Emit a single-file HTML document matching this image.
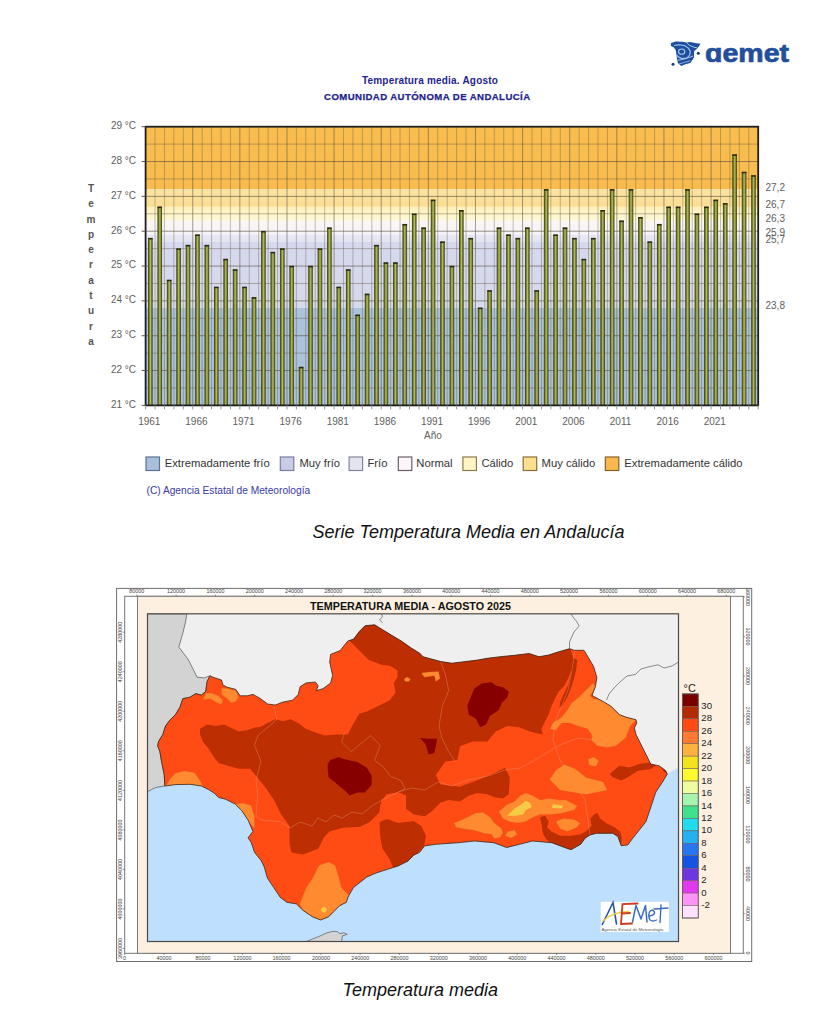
<!DOCTYPE html>
<html><head><meta charset="utf-8"><title>Temperatura media Andalucía</title>
<style>
html,body{margin:0;padding:0;background:#fff;}
body{width:838px;height:1033px;overflow:hidden;position:relative;font-family:"Liberation Sans", sans-serif;}
svg{position:absolute;left:0;top:0;}
svg text{font-family:"Liberation Sans", sans-serif;}
</style></head><body>
<svg width="838" height="1033" viewBox="0 0 838 1033">
<g><path d="M670.91 43.06 L675.74 41.44 L682.72 41.71 L686.48 42.52 L690.24 41.98 L695.08 43.06 L700.45 43.86 L699.37 45.74 L697.22 48.43 L694.27 51.11 L694.00 53.80 L694.00 57.56 L691.85 60.78 L690.24 62.93 L685.41 64.27 L681.11 65.88 L677.89 62.93 L677.08 59.17 L676.55 55.41 L675.74 50.04 L673.59 47.35 L670.91 46.01 Z" fill="#1f4f9b"/><path d="M674.13 45.47 L678.96 44.67 L684.33 45.47 L688.09 47.89 L690.24 51.11 L689.70 55.41 L686.48 58.09 L682.19 58.63 L678.43 57.02 L676.55 54.87" fill="none" stroke="#a8c8f4" stroke-width="1.1" stroke-linejoin="round"/><ellipse cx="681.65" cy="51.65" rx="3.1" ry="2.6" fill="none" stroke="#a8c8f4" stroke-width="1.1"/><path d="M677.62 60.24 L682.72 59.44 L687.56 58.09 L693.20 55.95" fill="none" stroke="#a8c8f4" stroke-width="1"/><path d="M686.48 42.52 L689.17 45.20 L692.93 46.82 L697.22 47.89" fill="none" stroke="#a8c8f4" stroke-width="1"/><path d="M678.96 64.00 L684.33 62.39 L690.24 60.78" fill="none" stroke="#a8c8f4" stroke-width="0.8"/><circle cx="698.30" cy="53.26" r="1.5" fill="#1a3f7e"/><circle cx="673.06" cy="64.27" r="1.5" fill="#1a3f7e"/><text x="705" y="62.2" font-size="25.8" font-weight="bold" fill="#234e9b" stroke="#234e9b" stroke-width="0.7" textLength="84" lengthAdjust="spacingAndGlyphs">&#x251;emet</text></g>
<defs>
<linearGradient id="barg" x1="0" x2="1" y1="0" y2="0"><stop offset="0" stop-color="#34380e"/><stop offset="0.22" stop-color="#5f6a20"/><stop offset="0.42" stop-color="#a0a84e"/><stop offset="0.55" stop-color="#b3b962"/><stop offset="0.75" stop-color="#737c28"/><stop offset="1" stop-color="#34380e"/></linearGradient>
</defs>
<defs>
<linearGradient id="bg0" x1="0" x2="0" y1="0" y2="1"><stop offset="0" stop-color="#f9bd4f"/><stop offset="1" stop-color="#f9bb4d"/></linearGradient>
<linearGradient id="bg1" x1="0" x2="0" y1="0" y2="1"><stop offset="0" stop-color="#fce4a4"/><stop offset="1" stop-color="#fbdd92"/></linearGradient>
<linearGradient id="bg2" x1="0" x2="0" y1="0" y2="1"><stop offset="0" stop-color="#fdf0b8"/><stop offset="1" stop-color="#fef8da"/></linearGradient>
<linearGradient id="bg3" x1="0" x2="0" y1="0" y2="1"><stop offset="0" stop-color="#fbf7f4"/><stop offset="1" stop-color="#f6f2f8"/></linearGradient>
<linearGradient id="bg4" x1="0" x2="0" y1="0" y2="1"><stop offset="0" stop-color="#e8e7f5"/><stop offset="1" stop-color="#e4e4f3"/></linearGradient>
<linearGradient id="bg5" x1="0" x2="0" y1="0" y2="1"><stop offset="0" stop-color="#d6d8ee"/><stop offset="1" stop-color="#d6daeb"/></linearGradient>
<linearGradient id="bg6" x1="0" x2="0" y1="0" y2="1"><stop offset="0" stop-color="#adc2dc"/><stop offset="1" stop-color="#abc0da"/></linearGradient>
</defs>
<rect x="145.60" y="126.70" width="612.60" height="62.71" fill="url(#bg0)"/>
<rect x="145.60" y="189.41" width="612.60" height="17.42" fill="url(#bg1)"/>
<rect x="145.60" y="206.83" width="612.60" height="13.93" fill="url(#bg2)"/>
<rect x="145.60" y="220.76" width="612.60" height="13.94" fill="url(#bg3)"/>
<rect x="145.60" y="234.70" width="612.60" height="6.97" fill="url(#bg4)"/>
<rect x="145.60" y="241.66" width="612.60" height="66.19" fill="url(#bg5)"/>
<rect x="145.60" y="307.85" width="612.60" height="97.55" fill="url(#bg6)"/>
<line x1="145.6" x2="758.2" y1="144.12" y2="144.12" stroke="#6a6050" stroke-opacity="0.45" stroke-width="1"/><line x1="145.6" x2="758.2" y1="161.54" y2="161.54" stroke="#5a5040" stroke-opacity="0.62" stroke-width="1"/><line x1="145.6" x2="758.2" y1="178.96" y2="178.96" stroke="#6a6050" stroke-opacity="0.45" stroke-width="1"/><line x1="145.6" x2="758.2" y1="196.38" y2="196.38" stroke="#5a5040" stroke-opacity="0.62" stroke-width="1"/><line x1="145.6" x2="758.2" y1="213.79" y2="213.79" stroke="#6a6050" stroke-opacity="0.45" stroke-width="1"/><line x1="145.6" x2="758.2" y1="231.21" y2="231.21" stroke="#5a5040" stroke-opacity="0.62" stroke-width="1"/><line x1="145.6" x2="758.2" y1="248.63" y2="248.63" stroke="#6a6050" stroke-opacity="0.45" stroke-width="1"/><line x1="145.6" x2="758.2" y1="266.05" y2="266.05" stroke="#5a5040" stroke-opacity="0.62" stroke-width="1"/><line x1="145.6" x2="758.2" y1="283.47" y2="283.47" stroke="#6a6050" stroke-opacity="0.45" stroke-width="1"/><line x1="145.6" x2="758.2" y1="300.89" y2="300.89" stroke="#5a5040" stroke-opacity="0.62" stroke-width="1"/><line x1="145.6" x2="758.2" y1="318.31" y2="318.31" stroke="#6a6050" stroke-opacity="0.45" stroke-width="1"/><line x1="145.6" x2="758.2" y1="335.72" y2="335.72" stroke="#5a5040" stroke-opacity="0.62" stroke-width="1"/><line x1="145.6" x2="758.2" y1="353.14" y2="353.14" stroke="#6a6050" stroke-opacity="0.45" stroke-width="1"/><line x1="145.6" x2="758.2" y1="370.56" y2="370.56" stroke="#5a5040" stroke-opacity="0.62" stroke-width="1"/><line x1="145.6" x2="758.2" y1="387.98" y2="387.98" stroke="#6a6050" stroke-opacity="0.45" stroke-width="1"/><line x1="155.02" x2="155.02" y1="126.7" y2="405.4" stroke="#5a5040" stroke-opacity="0.36" stroke-width="1"/><line x1="164.45" x2="164.45" y1="126.7" y2="405.4" stroke="#5a5040" stroke-opacity="0.36" stroke-width="1"/><line x1="173.87" x2="173.87" y1="126.7" y2="405.4" stroke="#5a5040" stroke-opacity="0.36" stroke-width="1"/><line x1="183.30" x2="183.30" y1="126.7" y2="405.4" stroke="#5a5040" stroke-opacity="0.36" stroke-width="1"/><line x1="192.72" x2="192.72" y1="126.7" y2="405.4" stroke="#5a5040" stroke-opacity="0.55" stroke-width="1"/><line x1="202.15" x2="202.15" y1="126.7" y2="405.4" stroke="#5a5040" stroke-opacity="0.36" stroke-width="1"/><line x1="211.57" x2="211.57" y1="126.7" y2="405.4" stroke="#5a5040" stroke-opacity="0.36" stroke-width="1"/><line x1="221.00" x2="221.00" y1="126.7" y2="405.4" stroke="#5a5040" stroke-opacity="0.36" stroke-width="1"/><line x1="230.42" x2="230.42" y1="126.7" y2="405.4" stroke="#5a5040" stroke-opacity="0.36" stroke-width="1"/><line x1="239.85" x2="239.85" y1="126.7" y2="405.4" stroke="#5a5040" stroke-opacity="0.55" stroke-width="1"/><line x1="249.27" x2="249.27" y1="126.7" y2="405.4" stroke="#5a5040" stroke-opacity="0.36" stroke-width="1"/><line x1="258.70" x2="258.70" y1="126.7" y2="405.4" stroke="#5a5040" stroke-opacity="0.36" stroke-width="1"/><line x1="268.12" x2="268.12" y1="126.7" y2="405.4" stroke="#5a5040" stroke-opacity="0.36" stroke-width="1"/><line x1="277.54" x2="277.54" y1="126.7" y2="405.4" stroke="#5a5040" stroke-opacity="0.36" stroke-width="1"/><line x1="286.97" x2="286.97" y1="126.7" y2="405.4" stroke="#5a5040" stroke-opacity="0.55" stroke-width="1"/><line x1="296.39" x2="296.39" y1="126.7" y2="405.4" stroke="#5a5040" stroke-opacity="0.36" stroke-width="1"/><line x1="305.82" x2="305.82" y1="126.7" y2="405.4" stroke="#5a5040" stroke-opacity="0.36" stroke-width="1"/><line x1="315.24" x2="315.24" y1="126.7" y2="405.4" stroke="#5a5040" stroke-opacity="0.36" stroke-width="1"/><line x1="324.67" x2="324.67" y1="126.7" y2="405.4" stroke="#5a5040" stroke-opacity="0.36" stroke-width="1"/><line x1="334.09" x2="334.09" y1="126.7" y2="405.4" stroke="#5a5040" stroke-opacity="0.55" stroke-width="1"/><line x1="343.52" x2="343.52" y1="126.7" y2="405.4" stroke="#5a5040" stroke-opacity="0.36" stroke-width="1"/><line x1="352.94" x2="352.94" y1="126.7" y2="405.4" stroke="#5a5040" stroke-opacity="0.36" stroke-width="1"/><line x1="362.37" x2="362.37" y1="126.7" y2="405.4" stroke="#5a5040" stroke-opacity="0.36" stroke-width="1"/><line x1="371.79" x2="371.79" y1="126.7" y2="405.4" stroke="#5a5040" stroke-opacity="0.36" stroke-width="1"/><line x1="381.22" x2="381.22" y1="126.7" y2="405.4" stroke="#5a5040" stroke-opacity="0.55" stroke-width="1"/><line x1="390.64" x2="390.64" y1="126.7" y2="405.4" stroke="#5a5040" stroke-opacity="0.36" stroke-width="1"/><line x1="400.06" x2="400.06" y1="126.7" y2="405.4" stroke="#5a5040" stroke-opacity="0.36" stroke-width="1"/><line x1="409.49" x2="409.49" y1="126.7" y2="405.4" stroke="#5a5040" stroke-opacity="0.36" stroke-width="1"/><line x1="418.91" x2="418.91" y1="126.7" y2="405.4" stroke="#5a5040" stroke-opacity="0.36" stroke-width="1"/><line x1="428.34" x2="428.34" y1="126.7" y2="405.4" stroke="#5a5040" stroke-opacity="0.55" stroke-width="1"/><line x1="437.76" x2="437.76" y1="126.7" y2="405.4" stroke="#5a5040" stroke-opacity="0.36" stroke-width="1"/><line x1="447.19" x2="447.19" y1="126.7" y2="405.4" stroke="#5a5040" stroke-opacity="0.36" stroke-width="1"/><line x1="456.61" x2="456.61" y1="126.7" y2="405.4" stroke="#5a5040" stroke-opacity="0.36" stroke-width="1"/><line x1="466.04" x2="466.04" y1="126.7" y2="405.4" stroke="#5a5040" stroke-opacity="0.36" stroke-width="1"/><line x1="475.46" x2="475.46" y1="126.7" y2="405.4" stroke="#5a5040" stroke-opacity="0.55" stroke-width="1"/><line x1="484.89" x2="484.89" y1="126.7" y2="405.4" stroke="#5a5040" stroke-opacity="0.36" stroke-width="1"/><line x1="494.31" x2="494.31" y1="126.7" y2="405.4" stroke="#5a5040" stroke-opacity="0.36" stroke-width="1"/><line x1="503.74" x2="503.74" y1="126.7" y2="405.4" stroke="#5a5040" stroke-opacity="0.36" stroke-width="1"/><line x1="513.16" x2="513.16" y1="126.7" y2="405.4" stroke="#5a5040" stroke-opacity="0.36" stroke-width="1"/><line x1="522.58" x2="522.58" y1="126.7" y2="405.4" stroke="#5a5040" stroke-opacity="0.55" stroke-width="1"/><line x1="532.01" x2="532.01" y1="126.7" y2="405.4" stroke="#5a5040" stroke-opacity="0.36" stroke-width="1"/><line x1="541.43" x2="541.43" y1="126.7" y2="405.4" stroke="#5a5040" stroke-opacity="0.36" stroke-width="1"/><line x1="550.86" x2="550.86" y1="126.7" y2="405.4" stroke="#5a5040" stroke-opacity="0.36" stroke-width="1"/><line x1="560.28" x2="560.28" y1="126.7" y2="405.4" stroke="#5a5040" stroke-opacity="0.36" stroke-width="1"/><line x1="569.71" x2="569.71" y1="126.7" y2="405.4" stroke="#5a5040" stroke-opacity="0.55" stroke-width="1"/><line x1="579.13" x2="579.13" y1="126.7" y2="405.4" stroke="#5a5040" stroke-opacity="0.36" stroke-width="1"/><line x1="588.56" x2="588.56" y1="126.7" y2="405.4" stroke="#5a5040" stroke-opacity="0.36" stroke-width="1"/><line x1="597.98" x2="597.98" y1="126.7" y2="405.4" stroke="#5a5040" stroke-opacity="0.36" stroke-width="1"/><line x1="607.41" x2="607.41" y1="126.7" y2="405.4" stroke="#5a5040" stroke-opacity="0.36" stroke-width="1"/><line x1="616.83" x2="616.83" y1="126.7" y2="405.4" stroke="#5a5040" stroke-opacity="0.55" stroke-width="1"/><line x1="626.26" x2="626.26" y1="126.7" y2="405.4" stroke="#5a5040" stroke-opacity="0.36" stroke-width="1"/><line x1="635.68" x2="635.68" y1="126.7" y2="405.4" stroke="#5a5040" stroke-opacity="0.36" stroke-width="1"/><line x1="645.10" x2="645.10" y1="126.7" y2="405.4" stroke="#5a5040" stroke-opacity="0.36" stroke-width="1"/><line x1="654.53" x2="654.53" y1="126.7" y2="405.4" stroke="#5a5040" stroke-opacity="0.36" stroke-width="1"/><line x1="663.95" x2="663.95" y1="126.7" y2="405.4" stroke="#5a5040" stroke-opacity="0.55" stroke-width="1"/><line x1="673.38" x2="673.38" y1="126.7" y2="405.4" stroke="#5a5040" stroke-opacity="0.36" stroke-width="1"/><line x1="682.80" x2="682.80" y1="126.7" y2="405.4" stroke="#5a5040" stroke-opacity="0.36" stroke-width="1"/><line x1="692.23" x2="692.23" y1="126.7" y2="405.4" stroke="#5a5040" stroke-opacity="0.36" stroke-width="1"/><line x1="701.65" x2="701.65" y1="126.7" y2="405.4" stroke="#5a5040" stroke-opacity="0.36" stroke-width="1"/><line x1="711.08" x2="711.08" y1="126.7" y2="405.4" stroke="#5a5040" stroke-opacity="0.55" stroke-width="1"/><line x1="720.50" x2="720.50" y1="126.7" y2="405.4" stroke="#5a5040" stroke-opacity="0.36" stroke-width="1"/><line x1="729.93" x2="729.93" y1="126.7" y2="405.4" stroke="#5a5040" stroke-opacity="0.36" stroke-width="1"/><line x1="739.35" x2="739.35" y1="126.7" y2="405.4" stroke="#5a5040" stroke-opacity="0.36" stroke-width="1"/><line x1="748.78" x2="748.78" y1="126.7" y2="405.4" stroke="#5a5040" stroke-opacity="0.36" stroke-width="1"/>
<rect x="148.01" y="238.18" width="4.6" height="167.22" fill="url(#barg)"/><rect x="148.01" y="237.88" width="4.6" height="1.6" fill="#2a2c10"/><rect x="157.44" y="206.83" width="4.6" height="198.57" fill="url(#barg)"/><rect x="157.44" y="206.53" width="4.6" height="1.6" fill="#2a2c10"/><rect x="166.86" y="279.98" width="4.6" height="125.42" fill="url(#barg)"/><rect x="166.86" y="279.68" width="4.6" height="1.6" fill="#2a2c10"/><rect x="176.29" y="248.63" width="4.6" height="156.77" fill="url(#barg)"/><rect x="176.29" y="248.33" width="4.6" height="1.6" fill="#2a2c10"/><rect x="185.71" y="245.15" width="4.6" height="160.25" fill="url(#barg)"/><rect x="185.71" y="244.85" width="4.6" height="1.6" fill="#2a2c10"/><rect x="195.14" y="234.70" width="4.6" height="170.70" fill="url(#barg)"/><rect x="195.14" y="234.40" width="4.6" height="1.6" fill="#2a2c10"/><rect x="204.56" y="245.15" width="4.6" height="160.25" fill="url(#barg)"/><rect x="204.56" y="244.85" width="4.6" height="1.6" fill="#2a2c10"/><rect x="213.98" y="286.95" width="4.6" height="118.45" fill="url(#barg)"/><rect x="213.98" y="286.65" width="4.6" height="1.6" fill="#2a2c10"/><rect x="223.41" y="259.08" width="4.6" height="146.32" fill="url(#barg)"/><rect x="223.41" y="258.78" width="4.6" height="1.6" fill="#2a2c10"/><rect x="232.83" y="269.53" width="4.6" height="135.87" fill="url(#barg)"/><rect x="232.83" y="269.23" width="4.6" height="1.6" fill="#2a2c10"/><rect x="242.26" y="286.95" width="4.6" height="118.45" fill="url(#barg)"/><rect x="242.26" y="286.65" width="4.6" height="1.6" fill="#2a2c10"/><rect x="251.68" y="297.40" width="4.6" height="108.00" fill="url(#barg)"/><rect x="251.68" y="297.10" width="4.6" height="1.6" fill="#2a2c10"/><rect x="261.11" y="231.21" width="4.6" height="174.19" fill="url(#barg)"/><rect x="261.11" y="230.91" width="4.6" height="1.6" fill="#2a2c10"/><rect x="270.53" y="252.12" width="4.6" height="153.28" fill="url(#barg)"/><rect x="270.53" y="251.82" width="4.6" height="1.6" fill="#2a2c10"/><rect x="279.96" y="248.63" width="4.6" height="156.77" fill="url(#barg)"/><rect x="279.96" y="248.33" width="4.6" height="1.6" fill="#2a2c10"/><rect x="289.38" y="266.05" width="4.6" height="139.35" fill="url(#barg)"/><rect x="289.38" y="265.75" width="4.6" height="1.6" fill="#2a2c10"/><rect x="298.81" y="367.08" width="4.6" height="38.32" fill="url(#barg)"/><rect x="298.81" y="366.78" width="4.6" height="1.6" fill="#2a2c10"/><rect x="308.23" y="266.05" width="4.6" height="139.35" fill="url(#barg)"/><rect x="308.23" y="265.75" width="4.6" height="1.6" fill="#2a2c10"/><rect x="317.66" y="248.63" width="4.6" height="156.77" fill="url(#barg)"/><rect x="317.66" y="248.33" width="4.6" height="1.6" fill="#2a2c10"/><rect x="327.08" y="227.73" width="4.6" height="177.67" fill="url(#barg)"/><rect x="327.08" y="227.43" width="4.6" height="1.6" fill="#2a2c10"/><rect x="336.50" y="286.95" width="4.6" height="118.45" fill="url(#barg)"/><rect x="336.50" y="286.65" width="4.6" height="1.6" fill="#2a2c10"/><rect x="345.93" y="269.53" width="4.6" height="135.87" fill="url(#barg)"/><rect x="345.93" y="269.23" width="4.6" height="1.6" fill="#2a2c10"/><rect x="355.35" y="314.82" width="4.6" height="90.58" fill="url(#barg)"/><rect x="355.35" y="314.52" width="4.6" height="1.6" fill="#2a2c10"/><rect x="364.78" y="293.92" width="4.6" height="111.48" fill="url(#barg)"/><rect x="364.78" y="293.62" width="4.6" height="1.6" fill="#2a2c10"/><rect x="374.20" y="245.15" width="4.6" height="160.25" fill="url(#barg)"/><rect x="374.20" y="244.85" width="4.6" height="1.6" fill="#2a2c10"/><rect x="383.63" y="262.57" width="4.6" height="142.83" fill="url(#barg)"/><rect x="383.63" y="262.27" width="4.6" height="1.6" fill="#2a2c10"/><rect x="393.05" y="262.57" width="4.6" height="142.83" fill="url(#barg)"/><rect x="393.05" y="262.27" width="4.6" height="1.6" fill="#2a2c10"/><rect x="402.48" y="224.25" width="4.6" height="181.15" fill="url(#barg)"/><rect x="402.48" y="223.94" width="4.6" height="1.6" fill="#2a2c10"/><rect x="411.90" y="213.79" width="4.6" height="191.61" fill="url(#barg)"/><rect x="411.90" y="213.49" width="4.6" height="1.6" fill="#2a2c10"/><rect x="421.33" y="227.73" width="4.6" height="177.67" fill="url(#barg)"/><rect x="421.33" y="227.43" width="4.6" height="1.6" fill="#2a2c10"/><rect x="430.75" y="199.86" width="4.6" height="205.54" fill="url(#barg)"/><rect x="430.75" y="199.56" width="4.6" height="1.6" fill="#2a2c10"/><rect x="440.18" y="241.66" width="4.6" height="163.74" fill="url(#barg)"/><rect x="440.18" y="241.36" width="4.6" height="1.6" fill="#2a2c10"/><rect x="449.60" y="266.05" width="4.6" height="139.35" fill="url(#barg)"/><rect x="449.60" y="265.75" width="4.6" height="1.6" fill="#2a2c10"/><rect x="459.02" y="210.31" width="4.6" height="195.09" fill="url(#barg)"/><rect x="459.02" y="210.01" width="4.6" height="1.6" fill="#2a2c10"/><rect x="468.45" y="238.18" width="4.6" height="167.22" fill="url(#barg)"/><rect x="468.45" y="237.88" width="4.6" height="1.6" fill="#2a2c10"/><rect x="477.87" y="307.85" width="4.6" height="97.55" fill="url(#barg)"/><rect x="477.87" y="307.55" width="4.6" height="1.6" fill="#2a2c10"/><rect x="487.30" y="290.44" width="4.6" height="114.96" fill="url(#barg)"/><rect x="487.30" y="290.14" width="4.6" height="1.6" fill="#2a2c10"/><rect x="496.72" y="227.73" width="4.6" height="177.67" fill="url(#barg)"/><rect x="496.72" y="227.43" width="4.6" height="1.6" fill="#2a2c10"/><rect x="506.15" y="234.70" width="4.6" height="170.70" fill="url(#barg)"/><rect x="506.15" y="234.40" width="4.6" height="1.6" fill="#2a2c10"/><rect x="515.57" y="238.18" width="4.6" height="167.22" fill="url(#barg)"/><rect x="515.57" y="237.88" width="4.6" height="1.6" fill="#2a2c10"/><rect x="525.00" y="227.73" width="4.6" height="177.67" fill="url(#barg)"/><rect x="525.00" y="227.43" width="4.6" height="1.6" fill="#2a2c10"/><rect x="534.42" y="290.44" width="4.6" height="114.96" fill="url(#barg)"/><rect x="534.42" y="290.14" width="4.6" height="1.6" fill="#2a2c10"/><rect x="543.85" y="189.41" width="4.6" height="215.99" fill="url(#barg)"/><rect x="543.85" y="189.11" width="4.6" height="1.6" fill="#2a2c10"/><rect x="553.27" y="234.70" width="4.6" height="170.70" fill="url(#barg)"/><rect x="553.27" y="234.40" width="4.6" height="1.6" fill="#2a2c10"/><rect x="562.70" y="227.73" width="4.6" height="177.67" fill="url(#barg)"/><rect x="562.70" y="227.43" width="4.6" height="1.6" fill="#2a2c10"/><rect x="572.12" y="238.18" width="4.6" height="167.22" fill="url(#barg)"/><rect x="572.12" y="237.88" width="4.6" height="1.6" fill="#2a2c10"/><rect x="581.54" y="259.08" width="4.6" height="146.32" fill="url(#barg)"/><rect x="581.54" y="258.78" width="4.6" height="1.6" fill="#2a2c10"/><rect x="590.97" y="238.18" width="4.6" height="167.22" fill="url(#barg)"/><rect x="590.97" y="237.88" width="4.6" height="1.6" fill="#2a2c10"/><rect x="600.39" y="210.31" width="4.6" height="195.09" fill="url(#barg)"/><rect x="600.39" y="210.01" width="4.6" height="1.6" fill="#2a2c10"/><rect x="609.82" y="189.41" width="4.6" height="215.99" fill="url(#barg)"/><rect x="609.82" y="189.11" width="4.6" height="1.6" fill="#2a2c10"/><rect x="619.24" y="220.76" width="4.6" height="184.64" fill="url(#barg)"/><rect x="619.24" y="220.46" width="4.6" height="1.6" fill="#2a2c10"/><rect x="628.67" y="189.41" width="4.6" height="215.99" fill="url(#barg)"/><rect x="628.67" y="189.11" width="4.6" height="1.6" fill="#2a2c10"/><rect x="638.09" y="217.28" width="4.6" height="188.12" fill="url(#barg)"/><rect x="638.09" y="216.98" width="4.6" height="1.6" fill="#2a2c10"/><rect x="647.52" y="241.66" width="4.6" height="163.74" fill="url(#barg)"/><rect x="647.52" y="241.36" width="4.6" height="1.6" fill="#2a2c10"/><rect x="656.94" y="224.25" width="4.6" height="181.15" fill="url(#barg)"/><rect x="656.94" y="223.94" width="4.6" height="1.6" fill="#2a2c10"/><rect x="666.37" y="206.83" width="4.6" height="198.57" fill="url(#barg)"/><rect x="666.37" y="206.53" width="4.6" height="1.6" fill="#2a2c10"/><rect x="675.79" y="206.83" width="4.6" height="198.57" fill="url(#barg)"/><rect x="675.79" y="206.53" width="4.6" height="1.6" fill="#2a2c10"/><rect x="685.22" y="189.41" width="4.6" height="215.99" fill="url(#barg)"/><rect x="685.22" y="189.11" width="4.6" height="1.6" fill="#2a2c10"/><rect x="694.64" y="213.79" width="4.6" height="191.61" fill="url(#barg)"/><rect x="694.64" y="213.49" width="4.6" height="1.6" fill="#2a2c10"/><rect x="704.06" y="206.83" width="4.6" height="198.57" fill="url(#barg)"/><rect x="704.06" y="206.53" width="4.6" height="1.6" fill="#2a2c10"/><rect x="713.49" y="199.86" width="4.6" height="205.54" fill="url(#barg)"/><rect x="713.49" y="199.56" width="4.6" height="1.6" fill="#2a2c10"/><rect x="722.91" y="203.34" width="4.6" height="202.06" fill="url(#barg)"/><rect x="722.91" y="203.04" width="4.6" height="1.6" fill="#2a2c10"/><rect x="732.34" y="154.57" width="4.6" height="250.83" fill="url(#barg)"/><rect x="732.34" y="154.27" width="4.6" height="1.6" fill="#2a2c10"/><rect x="741.76" y="171.99" width="4.6" height="233.41" fill="url(#barg)"/><rect x="741.76" y="171.69" width="4.6" height="1.6" fill="#2a2c10"/><rect x="751.19" y="175.47" width="4.6" height="229.93" fill="url(#barg)"/><rect x="751.19" y="175.17" width="4.6" height="1.6" fill="#2a2c10"/>
<rect x="145.60" y="126.70" width="612.60" height="278.70" fill="none" stroke="#1e1e1e" stroke-width="1.8"/>
<line x1="141.6" x2="145.6" y1="405.40" y2="405.40" stroke="#555" stroke-width="1"/><text x="136" y="407.70" text-anchor="end" font-size="10" fill="#606060">21 °C</text><line x1="141.6" x2="145.6" y1="370.56" y2="370.56" stroke="#555" stroke-width="1"/><text x="136" y="372.86" text-anchor="end" font-size="10" fill="#606060">22 °C</text><line x1="141.6" x2="145.6" y1="335.72" y2="335.72" stroke="#555" stroke-width="1"/><text x="136" y="338.02" text-anchor="end" font-size="10" fill="#606060">23 °C</text><line x1="141.6" x2="145.6" y1="300.89" y2="300.89" stroke="#555" stroke-width="1"/><text x="136" y="303.19" text-anchor="end" font-size="10" fill="#606060">24 °C</text><line x1="141.6" x2="145.6" y1="266.05" y2="266.05" stroke="#555" stroke-width="1"/><text x="136" y="268.35" text-anchor="end" font-size="10" fill="#606060">25 °C</text><line x1="141.6" x2="145.6" y1="231.21" y2="231.21" stroke="#555" stroke-width="1"/><text x="136" y="233.51" text-anchor="end" font-size="10" fill="#606060">26 °C</text><line x1="141.6" x2="145.6" y1="196.38" y2="196.38" stroke="#555" stroke-width="1"/><text x="136" y="198.68" text-anchor="end" font-size="10" fill="#606060">27 °C</text><line x1="141.6" x2="145.6" y1="161.54" y2="161.54" stroke="#555" stroke-width="1"/><text x="136" y="163.84" text-anchor="end" font-size="10" fill="#606060">28 °C</text><line x1="141.6" x2="145.6" y1="126.70" y2="126.70" stroke="#555" stroke-width="1"/><text x="136" y="129.00" text-anchor="end" font-size="10" fill="#606060">29 °C</text><line x1="145.60" x2="145.60" y1="405.4" y2="409.4" stroke="#999" stroke-width="1"/><line x1="155.02" x2="155.02" y1="405.4" y2="409.4" stroke="#999" stroke-width="1"/><line x1="164.45" x2="164.45" y1="405.4" y2="409.4" stroke="#999" stroke-width="1"/><line x1="173.87" x2="173.87" y1="405.4" y2="409.4" stroke="#999" stroke-width="1"/><line x1="183.30" x2="183.30" y1="405.4" y2="409.4" stroke="#999" stroke-width="1"/><line x1="192.72" x2="192.72" y1="405.4" y2="409.4" stroke="#999" stroke-width="1"/><line x1="202.15" x2="202.15" y1="405.4" y2="409.4" stroke="#999" stroke-width="1"/><line x1="211.57" x2="211.57" y1="405.4" y2="409.4" stroke="#999" stroke-width="1"/><line x1="221.00" x2="221.00" y1="405.4" y2="409.4" stroke="#999" stroke-width="1"/><line x1="230.42" x2="230.42" y1="405.4" y2="409.4" stroke="#999" stroke-width="1"/><line x1="239.85" x2="239.85" y1="405.4" y2="409.4" stroke="#999" stroke-width="1"/><line x1="249.27" x2="249.27" y1="405.4" y2="409.4" stroke="#999" stroke-width="1"/><line x1="258.70" x2="258.70" y1="405.4" y2="409.4" stroke="#999" stroke-width="1"/><line x1="268.12" x2="268.12" y1="405.4" y2="409.4" stroke="#999" stroke-width="1"/><line x1="277.54" x2="277.54" y1="405.4" y2="409.4" stroke="#999" stroke-width="1"/><line x1="286.97" x2="286.97" y1="405.4" y2="409.4" stroke="#999" stroke-width="1"/><line x1="296.39" x2="296.39" y1="405.4" y2="409.4" stroke="#999" stroke-width="1"/><line x1="305.82" x2="305.82" y1="405.4" y2="409.4" stroke="#999" stroke-width="1"/><line x1="315.24" x2="315.24" y1="405.4" y2="409.4" stroke="#999" stroke-width="1"/><line x1="324.67" x2="324.67" y1="405.4" y2="409.4" stroke="#999" stroke-width="1"/><line x1="334.09" x2="334.09" y1="405.4" y2="409.4" stroke="#999" stroke-width="1"/><line x1="343.52" x2="343.52" y1="405.4" y2="409.4" stroke="#999" stroke-width="1"/><line x1="352.94" x2="352.94" y1="405.4" y2="409.4" stroke="#999" stroke-width="1"/><line x1="362.37" x2="362.37" y1="405.4" y2="409.4" stroke="#999" stroke-width="1"/><line x1="371.79" x2="371.79" y1="405.4" y2="409.4" stroke="#999" stroke-width="1"/><line x1="381.22" x2="381.22" y1="405.4" y2="409.4" stroke="#999" stroke-width="1"/><line x1="390.64" x2="390.64" y1="405.4" y2="409.4" stroke="#999" stroke-width="1"/><line x1="400.06" x2="400.06" y1="405.4" y2="409.4" stroke="#999" stroke-width="1"/><line x1="409.49" x2="409.49" y1="405.4" y2="409.4" stroke="#999" stroke-width="1"/><line x1="418.91" x2="418.91" y1="405.4" y2="409.4" stroke="#999" stroke-width="1"/><line x1="428.34" x2="428.34" y1="405.4" y2="409.4" stroke="#999" stroke-width="1"/><line x1="437.76" x2="437.76" y1="405.4" y2="409.4" stroke="#999" stroke-width="1"/><line x1="447.19" x2="447.19" y1="405.4" y2="409.4" stroke="#999" stroke-width="1"/><line x1="456.61" x2="456.61" y1="405.4" y2="409.4" stroke="#999" stroke-width="1"/><line x1="466.04" x2="466.04" y1="405.4" y2="409.4" stroke="#999" stroke-width="1"/><line x1="475.46" x2="475.46" y1="405.4" y2="409.4" stroke="#999" stroke-width="1"/><line x1="484.89" x2="484.89" y1="405.4" y2="409.4" stroke="#999" stroke-width="1"/><line x1="494.31" x2="494.31" y1="405.4" y2="409.4" stroke="#999" stroke-width="1"/><line x1="503.74" x2="503.74" y1="405.4" y2="409.4" stroke="#999" stroke-width="1"/><line x1="513.16" x2="513.16" y1="405.4" y2="409.4" stroke="#999" stroke-width="1"/><line x1="522.58" x2="522.58" y1="405.4" y2="409.4" stroke="#999" stroke-width="1"/><line x1="532.01" x2="532.01" y1="405.4" y2="409.4" stroke="#999" stroke-width="1"/><line x1="541.43" x2="541.43" y1="405.4" y2="409.4" stroke="#999" stroke-width="1"/><line x1="550.86" x2="550.86" y1="405.4" y2="409.4" stroke="#999" stroke-width="1"/><line x1="560.28" x2="560.28" y1="405.4" y2="409.4" stroke="#999" stroke-width="1"/><line x1="569.71" x2="569.71" y1="405.4" y2="409.4" stroke="#999" stroke-width="1"/><line x1="579.13" x2="579.13" y1="405.4" y2="409.4" stroke="#999" stroke-width="1"/><line x1="588.56" x2="588.56" y1="405.4" y2="409.4" stroke="#999" stroke-width="1"/><line x1="597.98" x2="597.98" y1="405.4" y2="409.4" stroke="#999" stroke-width="1"/><line x1="607.41" x2="607.41" y1="405.4" y2="409.4" stroke="#999" stroke-width="1"/><line x1="616.83" x2="616.83" y1="405.4" y2="409.4" stroke="#999" stroke-width="1"/><line x1="626.26" x2="626.26" y1="405.4" y2="409.4" stroke="#999" stroke-width="1"/><line x1="635.68" x2="635.68" y1="405.4" y2="409.4" stroke="#999" stroke-width="1"/><line x1="645.10" x2="645.10" y1="405.4" y2="409.4" stroke="#999" stroke-width="1"/><line x1="654.53" x2="654.53" y1="405.4" y2="409.4" stroke="#999" stroke-width="1"/><line x1="663.95" x2="663.95" y1="405.4" y2="409.4" stroke="#999" stroke-width="1"/><line x1="673.38" x2="673.38" y1="405.4" y2="409.4" stroke="#999" stroke-width="1"/><line x1="682.80" x2="682.80" y1="405.4" y2="409.4" stroke="#999" stroke-width="1"/><line x1="692.23" x2="692.23" y1="405.4" y2="409.4" stroke="#999" stroke-width="1"/><line x1="701.65" x2="701.65" y1="405.4" y2="409.4" stroke="#999" stroke-width="1"/><line x1="711.08" x2="711.08" y1="405.4" y2="409.4" stroke="#999" stroke-width="1"/><line x1="720.50" x2="720.50" y1="405.4" y2="409.4" stroke="#999" stroke-width="1"/><line x1="729.93" x2="729.93" y1="405.4" y2="409.4" stroke="#999" stroke-width="1"/><line x1="739.35" x2="739.35" y1="405.4" y2="409.4" stroke="#999" stroke-width="1"/><line x1="748.78" x2="748.78" y1="405.4" y2="409.4" stroke="#999" stroke-width="1"/><line x1="758.20" x2="758.20" y1="405.4" y2="409.4" stroke="#999" stroke-width="1"/><text x="149.31" y="424.5" text-anchor="middle" font-size="10" fill="#606060">1961</text><text x="196.44" y="424.5" text-anchor="middle" font-size="10" fill="#606060">1966</text><text x="243.56" y="424.5" text-anchor="middle" font-size="10" fill="#606060">1971</text><text x="290.68" y="424.5" text-anchor="middle" font-size="10" fill="#606060">1976</text><text x="337.80" y="424.5" text-anchor="middle" font-size="10" fill="#606060">1981</text><text x="384.93" y="424.5" text-anchor="middle" font-size="10" fill="#606060">1986</text><text x="432.05" y="424.5" text-anchor="middle" font-size="10" fill="#606060">1991</text><text x="479.17" y="424.5" text-anchor="middle" font-size="10" fill="#606060">1996</text><text x="526.30" y="424.5" text-anchor="middle" font-size="10" fill="#606060">2001</text><text x="573.42" y="424.5" text-anchor="middle" font-size="10" fill="#606060">2006</text><text x="620.54" y="424.5" text-anchor="middle" font-size="10" fill="#606060">2011</text><text x="667.67" y="424.5" text-anchor="middle" font-size="10" fill="#606060">2016</text><text x="714.79" y="424.5" text-anchor="middle" font-size="10" fill="#606060">2021</text><text x="433" y="438.7" text-anchor="middle" font-size="10" fill="#606060">Año</text><text x="765.5" y="191.01" font-size="10" fill="#606060">27,2</text><text x="765.5" y="208.43" font-size="10" fill="#606060">26,7</text><text x="765.5" y="222.36" font-size="10" fill="#606060">26,3</text><text x="765.5" y="236.30" font-size="10" fill="#606060">25,9</text><text x="765.5" y="243.26" font-size="10" fill="#606060">25,7</text><text x="765.5" y="309.45" font-size="10" fill="#606060">23,8</text><text x="91" y="191.90" text-anchor="middle" font-size="10" font-weight="bold" fill="#555">T</text><text x="91" y="207.20" text-anchor="middle" font-size="10" font-weight="bold" fill="#555">e</text><text x="91" y="222.50" text-anchor="middle" font-size="10" font-weight="bold" fill="#555">m</text><text x="91" y="237.80" text-anchor="middle" font-size="10" font-weight="bold" fill="#555">p</text><text x="91" y="253.10" text-anchor="middle" font-size="10" font-weight="bold" fill="#555">e</text><text x="91" y="268.40" text-anchor="middle" font-size="10" font-weight="bold" fill="#555">r</text><text x="91" y="283.70" text-anchor="middle" font-size="10" font-weight="bold" fill="#555">a</text><text x="91" y="299.00" text-anchor="middle" font-size="10" font-weight="bold" fill="#555">t</text><text x="91" y="314.30" text-anchor="middle" font-size="10" font-weight="bold" fill="#555">u</text><text x="91" y="329.60" text-anchor="middle" font-size="10" font-weight="bold" fill="#555">r</text><text x="91" y="344.90" text-anchor="middle" font-size="10" font-weight="bold" fill="#555">a</text>
<text x="430" y="83.6" text-anchor="middle" font-size="10" font-weight="bold" fill="#1f1f8f" letter-spacing="0.2">Temperatura media. Agosto</text>
<text x="427.3" y="100.1" text-anchor="middle" font-size="9.6" font-weight="bold" fill="#1f1f8f" stroke="#1f1f8f" stroke-width="0.25" letter-spacing="0.42">COMUNIDAD AUTÓNOMA DE ANDALUCÍA</text>
<rect x="146.0" y="457" width="13.5" height="13.5" fill="#a7c0dc" stroke="#5d7290" stroke-width="1.2"/>
<text x="164.7" y="467.2" font-size="11.25" fill="#333">Extremadamente frío</text>
<rect x="280.3" y="457" width="13.5" height="13.5" fill="#c9cce6" stroke="#7b7e98" stroke-width="1.2"/>
<text x="299.4" y="467.2" font-size="11.25" fill="#333">Muy frío</text>
<rect x="349.1" y="457" width="13.5" height="13.5" fill="#e3e3f1" stroke="#85859a" stroke-width="1.2"/>
<text x="367.5" y="467.2" font-size="11.25" fill="#333">Frío</text>
<rect x="398.3" y="457" width="13.5" height="13.5" fill="#fbf5fa" stroke="#6a5f6c" stroke-width="1.2"/>
<text x="416.3" y="467.2" font-size="11.25" fill="#333">Normal</text>
<rect x="462.9" y="457" width="13.5" height="13.5" fill="#fff6c4" stroke="#8a7b50" stroke-width="1.2"/>
<text x="481.4" y="467.2" font-size="11.25" fill="#333">Cálido</text>
<rect x="523.2" y="457" width="13.5" height="13.5" fill="#fde08f" stroke="#87703e" stroke-width="1.2"/>
<text x="541.6" y="467.2" font-size="11.25" fill="#333">Muy cálido</text>
<rect x="605.3" y="457" width="13.5" height="13.5" fill="#f9b84b" stroke="#86612a" stroke-width="1.2"/>
<text x="624.3" y="467.2" font-size="11.25" fill="#333">Extremadamente cálido</text>
<text x="146.5" y="494" font-size="10.2" fill="#3a3aa8">(C) Agencia Estatal de Meteorología</text>
<text x="468.5" y="537.8" text-anchor="middle" font-size="18" font-style="italic" fill="#111">Serie Temperatura Media en Andalucía</text>
<text x="420.3" y="995.8" text-anchor="middle" font-size="18" font-style="italic" fill="#111">Temperatura media</text>
<g id="map">
<rect x="116.6" y="588.4" width="635.1" height="373.1" fill="#fff" stroke="#6e6e6e" stroke-width="1"/>
<rect x="124.7" y="596.3" width="618.6" height="357" fill="#fff" stroke="#777" stroke-width="1"/>
<rect x="137.5" y="596.3" width="593" height="357" fill="#fdf0e0" stroke="#777" stroke-width="1"/>
<clipPath id="mclip"><rect x="147.5" y="613.8" width="531.0" height="327.70000000000005"/></clipPath>
<g clip-path="url(#mclip)">
<rect x="147.5" y="613.8" width="531.0" height="327.70000000000005" fill="#bedffd"/>
<polygon points="147.5,613.8 678.5,613.8 678.5,767.4 667.3,774.0 640.0,760.0 560.0,700.0 420.0,700.0 300.0,720.0 210.0,700.0 147.5,700.0" fill="#efefef" />
<polygon points="147.5,613.8 186.9,613.8 185.3,622.9 183.0,632.5 178.8,647.0 183.7,653.5 188.5,660.0 192.8,668.6 197.1,677.2 204.3,677.9 210.0,675.8 207.1,681.5 205.7,691.5 201.4,695.1 195.7,693.7 190.0,697.2 182.8,698.7 179.9,707.3 175.6,714.4 169.9,720.1 165.6,725.9 162.8,734.5 158.5,741.6 157.7,745.9 159.9,751.6 161.3,760.2 164.2,774.6 164.9,786.0 155.6,787.5 147.5,791.7" fill="#d3d3d3" stroke="#555" stroke-width="0.7"/>
<clipPath id="aclip"><polygon points="210.0,675.8 212.9,677.2 221.5,680.0 222.9,685.0 227.2,687.2 235.8,689.4 240.1,695.8 247.2,695.8 253.0,694.4 260.0,698.3 267.6,704.0 275.3,705.0 282.9,702.1 292.5,700.2 298.2,694.5 300.1,686.8 305.8,683.0 315.4,682.0 318.2,685.9 316.3,690.6 323.0,688.7 330.6,683.0 332.6,675.4 329.7,662.0 330.6,654.4 340.2,650.5 347.8,641.0 353.6,639.1 359.3,631.5 365.0,625.7 374.6,624.8 382.2,629.5 391.7,635.3 401.3,641.0 410.8,647.7 420.0,653.4 422.9,656.7 440.6,661.5 451.9,663.2 477.7,660.0 487.3,658.3 500.2,656.7 516.3,655.1 529.2,653.5 538.9,656.7 548.5,655.1 558.2,651.9 569.5,648.7 574.3,650.3 584.0,650.3 588.8,658.3 593.6,666.4 596.9,677.7 595.2,687.3 592.0,695.4 604.7,702.4 611.3,706.5 619.5,714.7 626.1,717.2 636.0,719.7 636.8,723.0 634.4,727.9 636.0,734.5 642.6,747.7 650.8,764.1 659.1,765.8 665.7,770.7 667.3,774.0 662.4,782.3 655.8,792.1 652.5,802.0 649.2,811.9 645.9,821.8 639.3,830.0 632.7,838.3 627.8,844.9 621.2,845.7 617.9,836.6 612.9,833.3 604.7,833.3 596.5,833.3 589.9,835.0 585.0,838.3 580.7,844.3 571.0,849.7 564.6,847.5 551.8,842.7 532.4,841.0 519.5,844.3 506.6,847.5 493.8,842.7 474.4,841.0 458.3,842.7 435.8,844.3 424.5,845.9 419.7,852.3 414.0,855.0 408.0,861.0 398.0,866.0 387.5,869.3 376.0,873.0 366.5,877.2 353.4,887.6 348.0,897.0 346.4,902.3 339.9,905.5 335.1,910.3 328.6,916.8 320.6,920.0 312.5,916.8 302.9,910.3 296.4,903.9 286.8,902.3 280.3,897.4 273.9,887.8 267.4,878.1 264.2,866.8 261.0,860.4 254.5,852.3 251.3,842.7 248.1,837.8 252.9,831.4 248.1,820.1 241.6,810.4 235.2,804.0 225.5,799.2 218.6,797.5 214.3,793.2 208.6,789.6 201.4,786.0 190.0,784.3 175.6,784.6 164.9,786.0 164.2,774.6 161.3,760.2 159.9,751.6 157.7,745.9 158.5,741.6 162.8,734.5 165.6,725.9 169.9,720.1 175.6,714.4 179.9,707.3 182.8,698.7 190.0,697.2 195.7,693.7 201.4,695.1 205.7,691.5 207.1,681.5"/></clipPath>
<polygon points="210.0,675.8 212.9,677.2 221.5,680.0 222.9,685.0 227.2,687.2 235.8,689.4 240.1,695.8 247.2,695.8 253.0,694.4 260.0,698.3 267.6,704.0 275.3,705.0 282.9,702.1 292.5,700.2 298.2,694.5 300.1,686.8 305.8,683.0 315.4,682.0 318.2,685.9 316.3,690.6 323.0,688.7 330.6,683.0 332.6,675.4 329.7,662.0 330.6,654.4 340.2,650.5 347.8,641.0 353.6,639.1 359.3,631.5 365.0,625.7 374.6,624.8 382.2,629.5 391.7,635.3 401.3,641.0 410.8,647.7 420.0,653.4 422.9,656.7 440.6,661.5 451.9,663.2 477.7,660.0 487.3,658.3 500.2,656.7 516.3,655.1 529.2,653.5 538.9,656.7 548.5,655.1 558.2,651.9 569.5,648.7 574.3,650.3 584.0,650.3 588.8,658.3 593.6,666.4 596.9,677.7 595.2,687.3 592.0,695.4 604.7,702.4 611.3,706.5 619.5,714.7 626.1,717.2 636.0,719.7 636.8,723.0 634.4,727.9 636.0,734.5 642.6,747.7 650.8,764.1 659.1,765.8 665.7,770.7 667.3,774.0 662.4,782.3 655.8,792.1 652.5,802.0 649.2,811.9 645.9,821.8 639.3,830.0 632.7,838.3 627.8,844.9 621.2,845.7 617.9,836.6 612.9,833.3 604.7,833.3 596.5,833.3 589.9,835.0 585.0,838.3 580.7,844.3 571.0,849.7 564.6,847.5 551.8,842.7 532.4,841.0 519.5,844.3 506.6,847.5 493.8,842.7 474.4,841.0 458.3,842.7 435.8,844.3 424.5,845.9 419.7,852.3 414.0,855.0 408.0,861.0 398.0,866.0 387.5,869.3 376.0,873.0 366.5,877.2 353.4,887.6 348.0,897.0 346.4,902.3 339.9,905.5 335.1,910.3 328.6,916.8 320.6,920.0 312.5,916.8 302.9,910.3 296.4,903.9 286.8,902.3 280.3,897.4 273.9,887.8 267.4,878.1 264.2,866.8 261.0,860.4 254.5,852.3 251.3,842.7 248.1,837.8 252.9,831.4 248.1,820.1 241.6,810.4 235.2,804.0 225.5,799.2 218.6,797.5 214.3,793.2 208.6,789.6 201.4,786.0 190.0,784.3 175.6,784.6 164.9,786.0 164.2,774.6 161.3,760.2 159.9,751.6 157.7,745.9 158.5,741.6 162.8,734.5 165.6,725.9 169.9,720.1 175.6,714.4 179.9,707.3 182.8,698.7 190.0,697.2 195.7,693.7 201.4,695.1 205.7,691.5 207.1,681.5" fill="#ff4b14" />
<g clip-path="url(#aclip)">
<polygon points="349.7,641.0 345.0,615.0 580.0,615.0 570.1,647.9 573.0,657.2 571.5,668.6 568.7,677.2 564.4,685.8 558.6,691.6 554.3,700.1 551.5,705.9 548.6,714.5 544.3,723.1 541.5,728.8 542.9,734.5 535.7,733.1 530.0,731.6 518.8,727.3 507.4,725.9 495.9,731.6 487.3,741.6 473.0,741.6 460.1,745.9 457.3,760.0 445.4,761.4 435.8,774.9 440.6,784.4 459.7,786.8 478.8,779.7 495.5,772.5 505.0,767.7 509.8,777.3 508.7,794.3 503.0,798.6 494.4,797.2 487.3,794.3 477.2,792.9 468.6,795.8 460.0,801.5 448.6,800.0 440.0,802.9 432.7,810.5 425.1,816.3 413.7,814.4 406.0,808.6 406.0,795.3 398.4,792.4 386.9,794.3 381.2,801.0 379.3,812.5 369.7,822.0 360.2,826.8 343.0,827.7 329.6,831.6 323.9,837.3 318.2,848.7 302.9,854.5 291.5,852.6 289.5,843.0 289.5,826.0 280.8,813.7 274.4,800.8 265.8,787.9 257.2,777.2 250.1,768.8 238.6,768.8 228.6,766.0 218.6,763.1 214.3,757.4 208.6,748.8 202.8,741.6 200.0,734.5 200.0,728.7 207.1,724.4 215.7,725.9 224.3,724.4 232.9,728.7 238.6,731.6 247.2,730.2 255.8,727.3 260.0,726.9 267.6,723.1 275.3,719.3 282.9,721.2 290.5,719.3 298.2,723.1 305.8,728.8 315.4,732.6 324.9,735.5 336.4,734.6 347.8,734.6 351.6,726.9 359.3,713.6 366.9,711.6 374.6,707.8 382.2,704.0 389.8,700.2 395.6,692.6 393.7,683.0 397.5,677.3 397.5,670.6 389.8,665.8 382.2,664.9 368.8,660.1 359.3,650.5" fill="#bd2e02" />
<polygon points="379.6,822.0 386.9,819.0 398.4,823.0 413.7,821.0 421.3,826.0 426.0,836.0 424.0,846.0 414.0,857.0 403.0,866.0 394.0,870.0 390.0,860.0 382.3,848.2 380.0,835.0" fill="#bd2e02" />
<polygon points="540.0,817.2 545.1,815.8 548.6,821.5 547.2,827.2 551.5,831.5 560.1,835.8 570.1,835.8 580.1,834.4 585.9,831.5 591.6,825.8 590.2,818.6 594.5,814.3 597.3,812.9 600.2,818.6 605.9,822.9 614.5,827.2 620.2,831.5 621.7,837.3 621.0,850.0 560.0,852.0 545.8,838.7 542.9,833.0 541.5,824.4" fill="#bd2e02" />
<polygon points="609.7,774.0 619.5,765.8 629.4,767.4 639.3,764.1 649.2,762.5 655.8,765.8 650.8,769.0 637.7,770.7 627.8,777.3 621.2,780.6 612.9,777.3" fill="#bd2e02" />
<polygon points="660.0,766.0 668.0,770.0 672.0,776.0 664.0,772.0" fill="#bd2e02" />
<polygon points="572.2,657.5 577.5,660.0 576.0,670.4 573.2,681.3 570.5,689.6 567.5,697.0 563.0,704.5 559.5,708.0 560.5,701.0 565.0,691.5 568.5,684.0 570.5,675.5 571.0,666.0" fill="#bd2e02" />
<polygon points="379.6,807.3 386.0,794.4 398.9,792.2 405.0,796.8 405.0,811.0 394.6,822.3 386.0,815.8" fill="#ff4b14" />
<polygon points="160.0,786.0 167.0,784.6 169.9,778.9 175.6,773.1 184.2,771.0 194.3,772.4 200.0,780.3 202.8,786.0 209.0,792.0" fill="#ff8a30" stroke="#c85a20" stroke-width="0.4" stroke-opacity="0.6"/>
<polygon points="235.2,804.0 243.0,803.0 251.3,805.6 254.5,816.9 254.5,828.2 249.7,823.3 244.0,814.0" fill="#ff8a30" stroke="#c85a20" stroke-width="0.4" stroke-opacity="0.6"/>
<polygon points="205.7,693.0 211.4,693.0 218.6,695.8 222.9,700.1 221.5,704.4 217.2,703.0 210.0,698.7 203.0,700.0" fill="#ff8a30" stroke="#c85a20" stroke-width="0.4" stroke-opacity="0.6"/>
<polygon points="221.5,688.0 227.2,688.6 235.8,690.8 238.6,697.2 235.8,701.5 231.5,703.0 227.2,698.7 221.5,694.4" fill="#ff8a30" stroke="#c85a20" stroke-width="0.4" stroke-opacity="0.6"/>
<polygon points="299.6,903.9 306.1,887.8 312.5,878.1 319.0,865.2 328.6,862.0 335.1,865.2 338.3,874.9 341.5,887.8 351.2,897.4 346.4,902.3 339.9,905.5 335.1,910.3 328.6,916.8 320.6,920.0 312.5,916.8 302.9,910.3" fill="#ff8a30" stroke="#c85a20" stroke-width="0.4" stroke-opacity="0.6"/>
<polygon points="593.0,683.0 595.9,687.3 590.1,695.8 593.0,698.7 601.6,700.1 607.3,703.0 613.1,708.7 618.8,714.5 627.4,717.3 636.0,718.8 636.0,720.2 630.2,725.9 626.0,737.4 615.9,746.0 607.3,747.4 597.3,746.0 591.6,740.2 591.6,734.5 587.3,728.8 577.3,725.9 570.1,723.1 561.5,723.1 555.8,730.2 550.0,728.8 552.9,723.1 561.5,717.3 567.2,710.2 571.5,703.0 578.7,697.3 587.3,688.7" fill="#ff8a30" stroke="#c85a20" stroke-width="0.4" stroke-opacity="0.6"/>
<polygon points="564.4,764.5 575.2,768.8 586.0,777.4 603.0,781.7 607.4,790.3 586.0,794.6 560.1,790.3 549.4,779.6 556.0,770.0" fill="#ff8a30" stroke="#c85a20" stroke-width="0.4" stroke-opacity="0.6"/>
<polygon points="588.0,759.0 594.0,757.0 598.8,761.0 596.0,766.7 589.0,765.0" fill="#ff8a30" stroke="#c85a20" stroke-width="0.4" stroke-opacity="0.6"/>
<polygon points="454.3,823.0 461.5,820.1 475.8,812.9 483.0,812.2 490.1,817.2 494.4,823.0 501.6,828.7 503.0,833.0 500.1,837.3 494.4,838.7 491.6,834.4 483.0,833.0 472.9,830.1 462.9,828.7 455.8,827.2" fill="#ff8a30" stroke="#c85a20" stroke-width="0.4" stroke-opacity="0.6"/>
<polygon points="498.7,811.5 507.3,804.3 514.5,801.5 520.2,795.8 525.9,792.9 533.1,795.8 540.2,800.0 548.8,798.6 560.0,800.0 565.8,800.0 577.3,805.8 574.4,810.0 563.0,812.9 551.7,814.4 540.2,814.4 533.1,817.2 525.9,821.5 517.3,823.0 508.7,821.5 503.0,818.7" fill="#ff8a30" stroke="#c85a20" stroke-width="0.4" stroke-opacity="0.6"/>
<polygon points="555.8,821.5 563.0,818.6 574.4,819.4 580.1,822.9 577.3,827.2 567.3,831.5 560.1,828.7" fill="#ff8a30" stroke="#c85a20" stroke-width="0.4" stroke-opacity="0.6"/>
<polygon points="507.3,831.6 514.5,830.1 517.3,834.4 511.6,838.0 505.0,836.0" fill="#ff8a30" stroke="#c85a20" stroke-width="0.4" stroke-opacity="0.6"/>
<polygon points="421.5,672.9 428.6,672.1 438.6,671.4 440.1,678.6 435.8,681.5 434.3,675.7 424.3,677.2" fill="#ff8a30" stroke="#c85a20" stroke-width="0.4" stroke-opacity="0.6"/>
<polygon points="404.0,679.0 407.0,677.0 410.5,679.0 409.0,681.5 405.0,681.5" fill="#ff8a30" stroke="#c85a20" stroke-width="0.4" stroke-opacity="0.6"/>
<polygon points="507.3,815.8 514.5,808.6 521.6,804.3 525.9,800.8 530.2,802.9 531.6,807.2 525.9,810.0 523.1,814.4 515.9,815.8" fill="#f7cc45" />
<polygon points="552.9,804.3 563.0,805.8 561.5,808.6 552.0,808.0" fill="#f7cc45" />
<polygon points="321.0,909.0 324.0,906.5 327.0,909.0 325.5,912.5 322.0,912.0" fill="#f7cc45" />
<polygon points="327.7,763.9 330.5,760.1 338.2,757.2 347.7,760.1 357.3,762.0 366.8,767.7 371.6,775.4 371.6,784.9 364.9,792.6 357.3,792.6 349.6,795.4 345.8,791.6 338.2,784.9 328.6,777.3 327.7,769.6" fill="#860000" />
<polygon points="470.1,698.6 474.4,688.6 481.6,683.6 491.6,682.2 495.9,685.8 503.1,687.2 508.8,691.5 507.4,697.2 501.7,702.9 498.8,710.1 490.2,715.8 485.9,724.4 480.2,727.3 475.9,718.7 468.7,714.4 467.3,705.8" fill="#860000" />
<polygon points="420.0,738.0 428.6,738.7 437.2,738.7 435.8,745.9 434.3,753.1 428.6,754.5 425.8,744.5" fill="#860000" />
<polyline points="273.9,706.6 277.0,719.5 257.8,735.6 254.5,745.3 261.0,761.4 256.0,780.0 257.8,794.3 256.0,816.9 261.0,820.0 280.3,821.7 290.0,828.0" fill="none" stroke="#e0a080" stroke-opacity="0.55" stroke-width="0.7"/>
<polyline points="344.7,732.4 341.5,742.0 351.2,751.7 370.5,735.6 380.2,745.3 374.6,760.3 382.7,766.4 390.9,776.5 401.0,780.6 405.0,788.7 399.0,791.7" fill="none" stroke="#e0a080" stroke-opacity="0.55" stroke-width="0.7"/>
<polyline points="440.6,661.5 445.4,674.4 448.7,690.5 442.2,706.6 439.0,726.0 442.2,738.9 448.7,751.7 455.1,761.4" fill="none" stroke="#e0a080" stroke-opacity="0.55" stroke-width="0.7"/>
<polyline points="290.0,828.0 300.0,822.0 312.0,826.0 318.0,818.0 326.0,822.0 334.0,815.0 342.0,818.0 352.0,812.0 362.0,814.0 372.0,806.0 382.0,800.0 399.0,791.7" fill="none" stroke="#e0a080" stroke-opacity="0.55" stroke-width="0.7"/>
<polyline points="399.0,791.7 412.0,788.0 425.0,790.0 438.0,782.0 452.0,786.0 468.0,780.0 488.0,776.0 505.0,770.0 520.0,768.0 535.0,760.0 548.0,752.0 560.0,745.0 578.0,738.0 593.0,740.0 606.0,746.0" fill="none" stroke="#e0a080" stroke-opacity="0.55" stroke-width="0.7"/>
<polyline points="575.0,650.0 572.0,670.0 568.0,690.0 562.0,705.0 555.0,722.0 553.0,740.0 560.0,760.0 572.0,780.0 585.0,800.0 588.0,820.0 590.0,836.0" fill="none" stroke="#e0a080" stroke-opacity="0.55" stroke-width="0.7"/>
</g>
<polyline points="381.8,613.2 382.2,617.0 379.5,620.0 382.8,622.9" fill="none" stroke="#444" stroke-width="0.6"/>
<polyline points="571.0,613.8 573.0,617.0 577.0,622.0 579.1,626.1 574.0,632.0 569.5,642.2 569.5,648.7" fill="none" stroke="#444" stroke-width="0.6"/>
<polyline points="606.5,700.2 609.0,694.0 614.0,688.0 620.0,682.0 627.0,676.0 635.5,674.4 641.0,669.0 648.0,667.0 658.0,664.8 664.0,668.0 672.0,666.0 678.5,662.0" fill="none" stroke="#444" stroke-width="0.6"/>
<polygon points="210.0,675.8 212.9,677.2 221.5,680.0 222.9,685.0 227.2,687.2 235.8,689.4 240.1,695.8 247.2,695.8 253.0,694.4 260.0,698.3 267.6,704.0 275.3,705.0 282.9,702.1 292.5,700.2 298.2,694.5 300.1,686.8 305.8,683.0 315.4,682.0 318.2,685.9 316.3,690.6 323.0,688.7 330.6,683.0 332.6,675.4 329.7,662.0 330.6,654.4 340.2,650.5 347.8,641.0 353.6,639.1 359.3,631.5 365.0,625.7 374.6,624.8 382.2,629.5 391.7,635.3 401.3,641.0 410.8,647.7 420.0,653.4 422.9,656.7 440.6,661.5 451.9,663.2 477.7,660.0 487.3,658.3 500.2,656.7 516.3,655.1 529.2,653.5 538.9,656.7 548.5,655.1 558.2,651.9 569.5,648.7 574.3,650.3 584.0,650.3 588.8,658.3 593.6,666.4 596.9,677.7 595.2,687.3 592.0,695.4 604.7,702.4 611.3,706.5 619.5,714.7 626.1,717.2 636.0,719.7 636.8,723.0 634.4,727.9 636.0,734.5 642.6,747.7 650.8,764.1 659.1,765.8 665.7,770.7 667.3,774.0 662.4,782.3 655.8,792.1 652.5,802.0 649.2,811.9 645.9,821.8 639.3,830.0 632.7,838.3 627.8,844.9 621.2,845.7 617.9,836.6 612.9,833.3 604.7,833.3 596.5,833.3 589.9,835.0 585.0,838.3 580.7,844.3 571.0,849.7 564.6,847.5 551.8,842.7 532.4,841.0 519.5,844.3 506.6,847.5 493.8,842.7 474.4,841.0 458.3,842.7 435.8,844.3 424.5,845.9 419.7,852.3 414.0,855.0 408.0,861.0 398.0,866.0 387.5,869.3 376.0,873.0 366.5,877.2 353.4,887.6 348.0,897.0 346.4,902.3 339.9,905.5 335.1,910.3 328.6,916.8 320.6,920.0 312.5,916.8 302.9,910.3 296.4,903.9 286.8,902.3 280.3,897.4 273.9,887.8 267.4,878.1 264.2,866.8 261.0,860.4 254.5,852.3 251.3,842.7 248.1,837.8 252.9,831.4 248.1,820.1 241.6,810.4 235.2,804.0 225.5,799.2 218.6,797.5 214.3,793.2 208.6,789.6 201.4,786.0 190.0,784.3 175.6,784.6 164.9,786.0 164.2,774.6 161.3,760.2 159.9,751.6 157.7,745.9 158.5,741.6 162.8,734.5 165.6,725.9 169.9,720.1 175.6,714.4 179.9,707.3 182.8,698.7 190.0,697.2 195.7,693.7 201.4,695.1 205.7,691.5 207.1,681.5" fill="none" stroke="#3a2a20" stroke-width="0.8"/>
<polygon points="300.0,945.0 306.0,941.5 312.0,939.2 320.0,936.0 327.0,932.8 333.0,931.3 337.5,931.8 340.0,933.6 344.0,932.8 347.2,934.4 342.5,935.8 341.0,945.0" fill="#d3d3d3" stroke="#444" stroke-width="0.6"/>
</g>
<rect x="147.5" y="613.8" width="531.0" height="327.70000000000005" fill="none" stroke="#4a4a4a" stroke-width="1.2"/>
<rect x="682.6" y="693.90" width="15.6" height="12.45" fill="#7a0000" stroke="#6a5a5a" stroke-width="0.5"/>
<rect x="682.6" y="706.35" width="15.6" height="12.45" fill="#b52a00" stroke="#6a5a5a" stroke-width="0.5"/>
<rect x="682.6" y="718.80" width="15.6" height="12.45" fill="#ff4a16" stroke="#6a5a5a" stroke-width="0.5"/>
<rect x="682.6" y="731.25" width="15.6" height="12.45" fill="#ff7a30" stroke="#6a5a5a" stroke-width="0.5"/>
<rect x="682.6" y="743.70" width="15.6" height="12.45" fill="#ffb13e" stroke="#6a5a5a" stroke-width="0.5"/>
<rect x="682.6" y="756.15" width="15.6" height="12.45" fill="#f3e21c" stroke="#6a5a5a" stroke-width="0.5"/>
<rect x="682.6" y="768.60" width="15.6" height="12.45" fill="#fdfb2e" stroke="#6a5a5a" stroke-width="0.5"/>
<rect x="682.6" y="781.05" width="15.6" height="12.45" fill="#effda0" stroke="#6a5a5a" stroke-width="0.5"/>
<rect x="682.6" y="793.50" width="15.6" height="12.45" fill="#a7f3b0" stroke="#6a5a5a" stroke-width="0.5"/>
<rect x="682.6" y="805.95" width="15.6" height="12.45" fill="#3fe08e" stroke="#6a5a5a" stroke-width="0.5"/>
<rect x="682.6" y="818.40" width="15.6" height="12.45" fill="#1fdcef" stroke="#6a5a5a" stroke-width="0.5"/>
<rect x="682.6" y="830.85" width="15.6" height="12.45" fill="#25b0f2" stroke="#6a5a5a" stroke-width="0.5"/>
<rect x="682.6" y="843.30" width="15.6" height="12.45" fill="#2877f2" stroke="#6a5a5a" stroke-width="0.5"/>
<rect x="682.6" y="855.75" width="15.6" height="12.45" fill="#1454e4" stroke="#6a5a5a" stroke-width="0.5"/>
<rect x="682.6" y="868.20" width="15.6" height="12.45" fill="#6e36e0" stroke="#6a5a5a" stroke-width="0.5"/>
<rect x="682.6" y="880.65" width="15.6" height="12.45" fill="#e238f0" stroke="#6a5a5a" stroke-width="0.5"/>
<rect x="682.6" y="893.10" width="15.6" height="12.45" fill="#ff92f6" stroke="#6a5a5a" stroke-width="0.5"/>
<rect x="682.6" y="905.55" width="15.6" height="12.45" fill="#ffe0fe" stroke="#6a5a5a" stroke-width="0.5"/>
<rect x="682.6" y="693.9" width="15.6" height="224.10" fill="none" stroke="#555" stroke-width="0.8"/>
<text x="701.3" y="708.95" font-size="9.6" fill="#222">30</text>
<text x="701.3" y="721.40" font-size="9.6" fill="#222">28</text>
<text x="701.3" y="733.85" font-size="9.6" fill="#222">26</text>
<text x="701.3" y="746.30" font-size="9.6" fill="#222">24</text>
<text x="701.3" y="758.75" font-size="9.6" fill="#222">22</text>
<text x="701.3" y="771.20" font-size="9.6" fill="#222">20</text>
<text x="701.3" y="783.65" font-size="9.6" fill="#222">18</text>
<text x="701.3" y="796.10" font-size="9.6" fill="#222">16</text>
<text x="701.3" y="808.55" font-size="9.6" fill="#222">14</text>
<text x="701.3" y="821.00" font-size="9.6" fill="#222">12</text>
<text x="701.3" y="833.45" font-size="9.6" fill="#222">10</text>
<text x="701.3" y="845.90" font-size="9.6" fill="#222">8</text>
<text x="701.3" y="858.35" font-size="9.6" fill="#222">6</text>
<text x="701.3" y="870.80" font-size="9.6" fill="#222">4</text>
<text x="701.3" y="883.25" font-size="9.6" fill="#222">2</text>
<text x="701.3" y="895.70" font-size="9.6" fill="#222">0</text>
<text x="701.3" y="908.15" font-size="9.6" fill="#222">-2</text>
<text x="683.5" y="691.5" font-size="11" fill="#222">°C</text>
<text x="136.8" y="593.2" text-anchor="middle" font-size="5.4" fill="#444">80000</text><line x1="136.8" x2="136.8" y1="594.6" y2="596.3" stroke="#555" stroke-width="0.6"/><text x="176.1" y="593.2" text-anchor="middle" font-size="5.4" fill="#444">120000</text><line x1="176.1" x2="176.1" y1="594.6" y2="596.3" stroke="#555" stroke-width="0.6"/><text x="215.4" y="593.2" text-anchor="middle" font-size="5.4" fill="#444">160000</text><line x1="215.4" x2="215.4" y1="594.6" y2="596.3" stroke="#555" stroke-width="0.6"/><text x="254.7" y="593.2" text-anchor="middle" font-size="5.4" fill="#444">200000</text><line x1="254.7" x2="254.7" y1="594.6" y2="596.3" stroke="#555" stroke-width="0.6"/><text x="294.0" y="593.2" text-anchor="middle" font-size="5.4" fill="#444">240000</text><line x1="294.0" x2="294.0" y1="594.6" y2="596.3" stroke="#555" stroke-width="0.6"/><text x="333.3" y="593.2" text-anchor="middle" font-size="5.4" fill="#444">280000</text><line x1="333.3" x2="333.3" y1="594.6" y2="596.3" stroke="#555" stroke-width="0.6"/><text x="372.6" y="593.2" text-anchor="middle" font-size="5.4" fill="#444">320000</text><line x1="372.6" x2="372.6" y1="594.6" y2="596.3" stroke="#555" stroke-width="0.6"/><text x="411.9" y="593.2" text-anchor="middle" font-size="5.4" fill="#444">360000</text><line x1="411.9" x2="411.9" y1="594.6" y2="596.3" stroke="#555" stroke-width="0.6"/><text x="451.2" y="593.2" text-anchor="middle" font-size="5.4" fill="#444">400000</text><line x1="451.2" x2="451.2" y1="594.6" y2="596.3" stroke="#555" stroke-width="0.6"/><text x="490.5" y="593.2" text-anchor="middle" font-size="5.4" fill="#444">440000</text><line x1="490.5" x2="490.5" y1="594.6" y2="596.3" stroke="#555" stroke-width="0.6"/><text x="529.8" y="593.2" text-anchor="middle" font-size="5.4" fill="#444">480000</text><line x1="529.8" x2="529.8" y1="594.6" y2="596.3" stroke="#555" stroke-width="0.6"/><text x="569.1" y="593.2" text-anchor="middle" font-size="5.4" fill="#444">520000</text><line x1="569.1" x2="569.1" y1="594.6" y2="596.3" stroke="#555" stroke-width="0.6"/><text x="608.4" y="593.2" text-anchor="middle" font-size="5.4" fill="#444">560000</text><line x1="608.4" x2="608.4" y1="594.6" y2="596.3" stroke="#555" stroke-width="0.6"/><text x="647.7" y="593.2" text-anchor="middle" font-size="5.4" fill="#444">600000</text><line x1="647.7" x2="647.7" y1="594.6" y2="596.3" stroke="#555" stroke-width="0.6"/><text x="687.0" y="593.2" text-anchor="middle" font-size="5.4" fill="#444">640000</text><line x1="687.0" x2="687.0" y1="594.6" y2="596.3" stroke="#555" stroke-width="0.6"/><text x="726.3" y="593.2" text-anchor="middle" font-size="5.4" fill="#444">680000</text><line x1="726.3" x2="726.3" y1="594.6" y2="596.3" stroke="#555" stroke-width="0.6"/><text x="124.6" y="959.6" text-anchor="middle" font-size="5.4" fill="#444">0</text><line x1="124.6" x2="124.6" y1="953.3" y2="955" stroke="#555" stroke-width="0.6"/><text x="163.9" y="959.6" text-anchor="middle" font-size="5.4" fill="#444">40000</text><line x1="163.9" x2="163.9" y1="953.3" y2="955" stroke="#555" stroke-width="0.6"/><text x="203.1" y="959.6" text-anchor="middle" font-size="5.4" fill="#444">80000</text><line x1="203.1" x2="203.1" y1="953.3" y2="955" stroke="#555" stroke-width="0.6"/><text x="242.4" y="959.6" text-anchor="middle" font-size="5.4" fill="#444">120000</text><line x1="242.4" x2="242.4" y1="953.3" y2="955" stroke="#555" stroke-width="0.6"/><text x="281.6" y="959.6" text-anchor="middle" font-size="5.4" fill="#444">160000</text><line x1="281.6" x2="281.6" y1="953.3" y2="955" stroke="#555" stroke-width="0.6"/><text x="320.9" y="959.6" text-anchor="middle" font-size="5.4" fill="#444">200000</text><line x1="320.9" x2="320.9" y1="953.3" y2="955" stroke="#555" stroke-width="0.6"/><text x="360.2" y="959.6" text-anchor="middle" font-size="5.4" fill="#444">240000</text><line x1="360.2" x2="360.2" y1="953.3" y2="955" stroke="#555" stroke-width="0.6"/><text x="399.4" y="959.6" text-anchor="middle" font-size="5.4" fill="#444">280000</text><line x1="399.4" x2="399.4" y1="953.3" y2="955" stroke="#555" stroke-width="0.6"/><text x="438.7" y="959.6" text-anchor="middle" font-size="5.4" fill="#444">320000</text><line x1="438.7" x2="438.7" y1="953.3" y2="955" stroke="#555" stroke-width="0.6"/><text x="477.9" y="959.6" text-anchor="middle" font-size="5.4" fill="#444">360000</text><line x1="477.9" x2="477.9" y1="953.3" y2="955" stroke="#555" stroke-width="0.6"/><text x="517.2" y="959.6" text-anchor="middle" font-size="5.4" fill="#444">400000</text><line x1="517.2" x2="517.2" y1="953.3" y2="955" stroke="#555" stroke-width="0.6"/><text x="556.5" y="959.6" text-anchor="middle" font-size="5.4" fill="#444">440000</text><line x1="556.5" x2="556.5" y1="953.3" y2="955" stroke="#555" stroke-width="0.6"/><text x="595.7" y="959.6" text-anchor="middle" font-size="5.4" fill="#444">480000</text><line x1="595.7" x2="595.7" y1="953.3" y2="955" stroke="#555" stroke-width="0.6"/><text x="635.0" y="959.6" text-anchor="middle" font-size="5.4" fill="#444">520000</text><line x1="635.0" x2="635.0" y1="953.3" y2="955" stroke="#555" stroke-width="0.6"/><text x="674.2" y="959.6" text-anchor="middle" font-size="5.4" fill="#444">560000</text><line x1="674.2" x2="674.2" y1="953.3" y2="955" stroke="#555" stroke-width="0.6"/><text x="713.5" y="959.6" text-anchor="middle" font-size="5.4" fill="#444">600000</text><line x1="713.5" x2="713.5" y1="953.3" y2="955" stroke="#555" stroke-width="0.6"/><text transform="translate(122.4 632.2) rotate(-90)" text-anchor="middle" font-size="5.4" fill="#444">4280000</text><line x1="122.8" x2="124.7" y1="632.2" y2="632.2" stroke="#555" stroke-width="0.6"/><text transform="translate(122.4 671.7) rotate(-90)" text-anchor="middle" font-size="5.4" fill="#444">4240000</text><line x1="122.8" x2="124.7" y1="671.7" y2="671.7" stroke="#555" stroke-width="0.6"/><text transform="translate(122.4 711.3) rotate(-90)" text-anchor="middle" font-size="5.4" fill="#444">4200000</text><line x1="122.8" x2="124.7" y1="711.3" y2="711.3" stroke="#555" stroke-width="0.6"/><text transform="translate(122.4 750.8) rotate(-90)" text-anchor="middle" font-size="5.4" fill="#444">4160000</text><line x1="122.8" x2="124.7" y1="750.8" y2="750.8" stroke="#555" stroke-width="0.6"/><text transform="translate(122.4 790.4) rotate(-90)" text-anchor="middle" font-size="5.4" fill="#444">4120000</text><line x1="122.8" x2="124.7" y1="790.4" y2="790.4" stroke="#555" stroke-width="0.6"/><text transform="translate(122.4 829.9) rotate(-90)" text-anchor="middle" font-size="5.4" fill="#444">4080000</text><line x1="122.8" x2="124.7" y1="829.9" y2="829.9" stroke="#555" stroke-width="0.6"/><text transform="translate(122.4 869.4) rotate(-90)" text-anchor="middle" font-size="5.4" fill="#444">4040000</text><line x1="122.8" x2="124.7" y1="869.4" y2="869.4" stroke="#555" stroke-width="0.6"/><text transform="translate(122.4 909.0) rotate(-90)" text-anchor="middle" font-size="5.4" fill="#444">4000000</text><line x1="122.8" x2="124.7" y1="909.0" y2="909.0" stroke="#555" stroke-width="0.6"/><text transform="translate(122.4 948.5) rotate(-90)" text-anchor="middle" font-size="5.4" fill="#444">3960000</text><line x1="122.8" x2="124.7" y1="948.5" y2="948.5" stroke="#555" stroke-width="0.6"/><text transform="translate(746 597.0) rotate(90)" text-anchor="middle" font-size="5.4" fill="#444">360000</text><line x1="743.3" x2="745" y1="597.0" y2="597.0" stroke="#555" stroke-width="0.6"/><text transform="translate(746 636.6) rotate(90)" text-anchor="middle" font-size="5.4" fill="#444">320000</text><line x1="743.3" x2="745" y1="636.6" y2="636.6" stroke="#555" stroke-width="0.6"/><text transform="translate(746 676.1) rotate(90)" text-anchor="middle" font-size="5.4" fill="#444">280000</text><line x1="743.3" x2="745" y1="676.1" y2="676.1" stroke="#555" stroke-width="0.6"/><text transform="translate(746 715.7) rotate(90)" text-anchor="middle" font-size="5.4" fill="#444">240000</text><line x1="743.3" x2="745" y1="715.7" y2="715.7" stroke="#555" stroke-width="0.6"/><text transform="translate(746 755.3) rotate(90)" text-anchor="middle" font-size="5.4" fill="#444">200000</text><line x1="743.3" x2="745" y1="755.3" y2="755.3" stroke="#555" stroke-width="0.6"/><text transform="translate(746 794.9) rotate(90)" text-anchor="middle" font-size="5.4" fill="#444">160000</text><line x1="743.3" x2="745" y1="794.9" y2="794.9" stroke="#555" stroke-width="0.6"/><text transform="translate(746 834.4) rotate(90)" text-anchor="middle" font-size="5.4" fill="#444">120000</text><line x1="743.3" x2="745" y1="834.4" y2="834.4" stroke="#555" stroke-width="0.6"/><text transform="translate(746 874.0) rotate(90)" text-anchor="middle" font-size="5.4" fill="#444">80000</text><line x1="743.3" x2="745" y1="874.0" y2="874.0" stroke="#555" stroke-width="0.6"/><text transform="translate(746 913.6) rotate(90)" text-anchor="middle" font-size="5.4" fill="#444">40000</text><line x1="743.3" x2="745" y1="913.6" y2="913.6" stroke="#555" stroke-width="0.6"/><text transform="translate(746 953.1) rotate(90)" text-anchor="middle" font-size="5.4" fill="#444">0</text><line x1="743.3" x2="745" y1="953.1" y2="953.1" stroke="#555" stroke-width="0.6"/>
<rect x="600.7" y="901.8" width="68.2" height="30.1" fill="#fff"/>
<path d="M602.3 924.5 L613 902.5 L616.5 924" fill="none" stroke="#2a55a8" stroke-width="1.6" stroke-linecap="round"/>
<path d="M603 921 Q612 912 628.5 911.5" fill="none" stroke="#f2d23c" stroke-width="1.5" stroke-linecap="round"/>
<path d="M637.5 903.5 L622.5 904 L621 924 L632 923.5 M621.5 913.5 L630 913" fill="none" stroke="#cc3a22" stroke-width="1.8" stroke-linecap="round"/>
<path d="M632.5 922 L636 905.5 L641 919 L645.5 905.5 L647 922" fill="none" stroke="#3a6cc4" stroke-width="1.5" stroke-linecap="round" stroke-linejoin="round"/>
<path d="M649.5 916 Q655 915 654.5 912 Q653 909 650 911 Q647.5 915 650 920 Q653 922 656.5 920" fill="none" stroke="#3a6cc4" stroke-width="1.4" stroke-linecap="round"/>
<path d="M661 905 L660 922.5 M654 909 L668 908" fill="none" stroke="#3a6cc4" stroke-width="1.4" stroke-linecap="round"/>
<text x="601.5" y="930.5" font-size="3.6" fill="#555" textLength="62" lengthAdjust="spacingAndGlyphs">Agencia Estatal de Meteorología</text>
<text x="410.5" y="610.4" text-anchor="middle" font-size="10.75" font-weight="bold" fill="#111">TEMPERATURA MEDIA - AGOSTO 2025</text>
</g>
</svg>
</body></html>
